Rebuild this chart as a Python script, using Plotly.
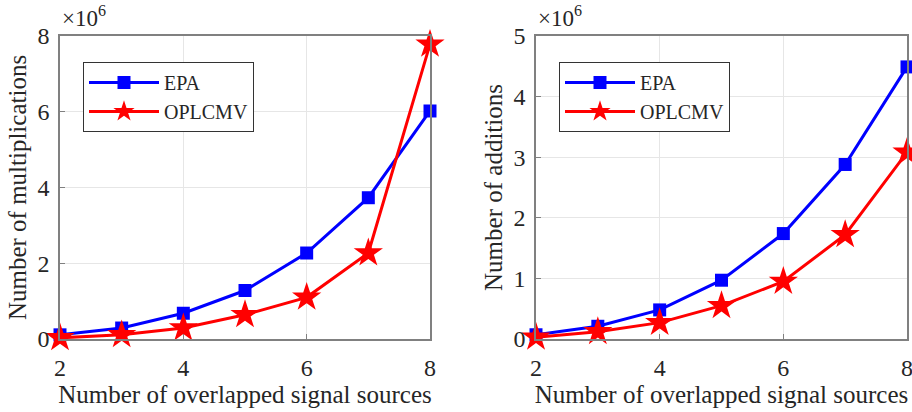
import plotly.graph_objects as go

sources = [2, 3, 4, 5, 6, 7, 8]
mult_epa = [0.11, 0.29, 0.68, 1.28, 2.27, 3.73, 6.02]
mult_oplcmv = [0.03, 0.11, 0.29, 0.64, 1.10, 2.27, 7.78]
add_epa = [0.07, 0.21, 0.48, 0.97, 1.74, 2.88, 4.49]
add_oplcmv = [0.03, 0.12, 0.27, 0.55, 0.95, 1.72, 3.08]

x_ticks = [2, 4, 6, 8]
y1_ticks = [0, 2, 4, 6, 8]
y2_ticks = [0, 1, 2, 3, 4, 5]

FONT = "Liberation Serif"
BLUE = "#0000ff"
RED = "#ff0000"
TXT = "#262626"

fig = go.Figure()

def add_pair(epa, opl, xa, ya, legend):
    fig.add_trace(go.Scatter(x=sources, y=epa, name="EPA", mode="lines+markers",
                             line=dict(color=BLUE, width=3),
                             marker=dict(symbol="square", size=13, color=BLUE),
                             xaxis=xa, yaxis=ya, legend=legend, cliponaxis=False))
    fig.add_trace(go.Scatter(x=sources, y=opl, name="OPLCMV", mode="lines+markers",
                             line=dict(color=RED, width=3),
                             marker=dict(symbol="star", size=22, color=RED),
                             xaxis=xa, yaxis=ya, legend=legend, cliponaxis=False))

add_pair(mult_epa, mult_oplcmv, "x", "y", "legend")
add_pair(add_epa, add_oplcmv, "x2", "y2", "legend2")

axis_common = dict(showgrid=True, gridcolor="#e6e6e6", gridwidth=1,
                   showline=True, linecolor="#808080", linewidth=1.5, mirror=True,
                   ticks="inside", ticklen=5, tickcolor="#808080", automargin=False,
                   ticklabeloverflow="allow",
                   zeroline=False, tickfont=dict(family=FONT, size=24, color=TXT))

ydom = [1 - 339 / 412, 1 - 36 / 412]
fig.update_layout(
    width=912, height=412,
    margin=dict(l=0, r=0, t=0, b=0, pad=0, autoexpand=False),
    paper_bgcolor="white", plot_bgcolor="white",
    font=dict(family=FONT, color=TXT),
    xaxis=dict(domain=[60 / 912, 430 / 912], range=[2, 8], tickvals=x_ticks,
               ticklabelstandoff=6,
               title=dict(text="Number of overlapped signal sources", font=dict(size=25), standoff=2),
               **axis_common),
    yaxis=dict(domain=ydom, range=[0, 8], tickvals=y1_ticks,
               ticklabelstandoff=4,
               title=dict(text="Number of multiplications", font=dict(size=25), standoff=4),
               **axis_common),
    xaxis2=dict(domain=[536 / 912, 907 / 912], range=[2, 8], tickvals=x_ticks, anchor="y2",
                ticklabelstandoff=6,
                title=dict(text="Number of overlapped signal sources", font=dict(size=25), standoff=2),
                **axis_common),
    yaxis2=dict(domain=ydom, range=[0, 5], tickvals=y2_ticks, anchor="x2",
                ticklabelstandoff=4,
                title=dict(text="Number of additions", font=dict(size=25), standoff=4),
                **axis_common),
    legend=dict(x=83 / 912, y=1 - 62 / 412, xanchor="left", yanchor="top",
                bgcolor="white", bordercolor="#333333", borderwidth=1,
                font=dict(family=FONT, size=20, color=TXT),
                itemwidth=70, tracegroupgap=0),
    legend2=dict(x=559 / 912, y=1 - 62 / 412, xanchor="left", yanchor="top",
                 bgcolor="white", bordercolor="#333333", borderwidth=1,
                 font=dict(family=FONT, size=20, color=TXT),
                 itemwidth=70, tracegroupgap=0),
    annotations=[
        dict(text="×10<sup>6</sup>", x=60 / 912, y=1 - 33 / 412, xref="paper", yref="paper",
             xanchor="left", yanchor="bottom", showarrow=False,
             font=dict(family=FONT, size=23, color=TXT)),
        dict(text="×10<sup>6</sup>", x=536 / 912, y=1 - 33 / 412, xref="paper", yref="paper",
             xanchor="left", yanchor="bottom", showarrow=False,
             font=dict(family=FONT, size=23, color=TXT)),
    ],
)

fig.write_html("out.html")
